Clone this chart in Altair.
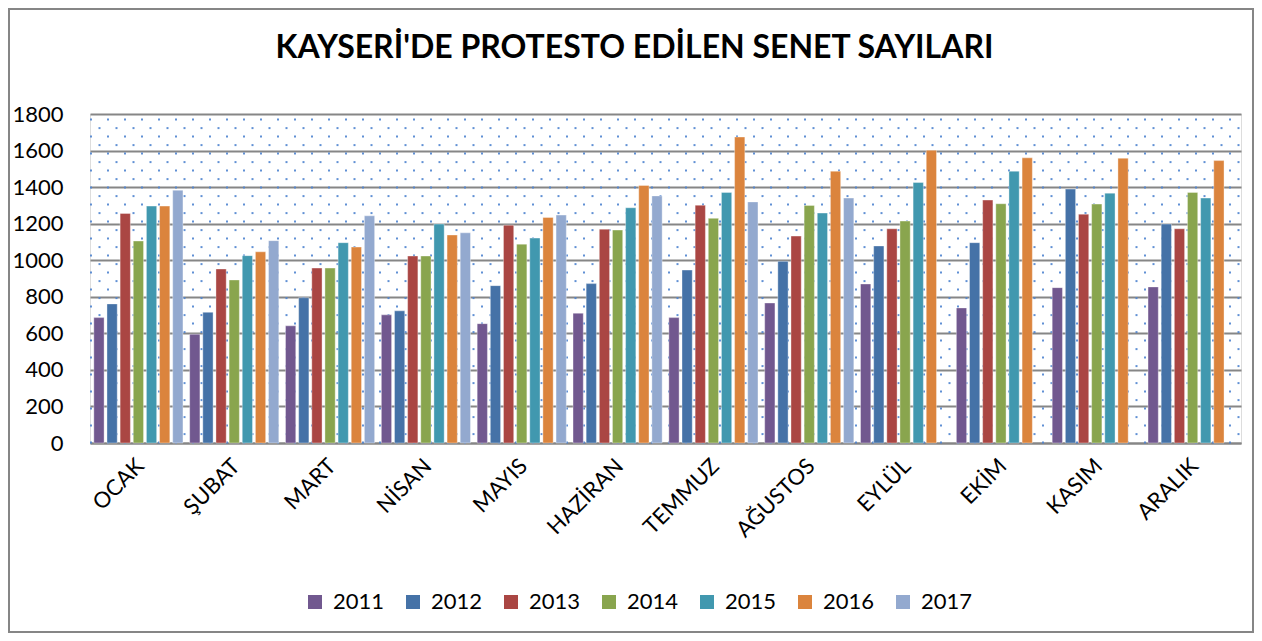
import altair as alt
import pandas as pd

months = ["OCAK", "ŞUBAT", "MART", "NİSAN", "MAYIS", "HAZİRAN", "TEMMUZ",
          "AĞUSTOS", "EYLÜL", "EKİM", "KASIM", "ARALIK"]
years = ["2011", "2012", "2013", "2014", "2015", "2016", "2017"]

v2011 = [686, 595, 641, 701, 653, 710, 686, 766, 870, 739, 850, 854]
v2012 = [761, 715, 795, 723, 861, 872, 946, 994, 1078, 1096, 1389, 1198]
v2013 = [1256, 952, 957, 1023, 1192, 1170, 1301, 1132, 1172, 1329, 1252, 1172]
v2014 = [1105, 892, 957, 1023, 1088, 1165, 1229, 1300, 1214, 1309, 1307, 1371]
v2015 = [1296, 1025, 1096, 1198, 1121, 1287, 1371, 1258, 1425, 1487, 1367, 1340]
v2016 = [1296, 1046, 1072, 1138, 1234, 1409, 1674, 1487, 1602, 1560, 1558, 1545]
v2017 = [1383, 1107, 1243, 1150, 1247, 1352, 1319, 1340, None, None, None, None]

colors = ["#71588f", "#4572a7", "#aa4643", "#89a54e", "#4198af", "#db843d", "#93a9cf"]
y_ticks = [0, 200, 400, 600, 800, 1000, 1200, 1400, 1600, 1800]

series = [v2011, v2012, v2013, v2014, v2015, v2016, v2017]
rows = []
for yr, vals in zip(years, series):
    for m, v in zip(months, vals):
        rows.append({"ay": m, "yil": yr, "deger": v})
df = pd.DataFrame(rows)

W, H = 1151, 329
PAD = {"left": 82, "top": 106, "right": 13, "bottom": 190}
FONT = "Lato"

# plot-area dotted fill texture (decorative)
COLS, ROWS = 68, 39
dots = (
    alt.Chart(alt.sequence(0, COLS * ROWS, as_="i"))
    .transform_calculate(
        r="floor(datum.i / %d)" % COLS,
        c="datum.i %% %d" % COLS,
    )
    .transform_calculate(
        px="datum.c * 17 + (datum.r % 2) * 8.5 + 1",
        py="datum.r * 8.5 + 5.6",
    )
    .transform_filter(f"datum.px < {W} && datum.py < {H}")
    .mark_square(size=4, color="#4f84cf", opacity=0.9)
    .encode(
        x=alt.X("px:Q", scale=None, axis=None),
        y=alt.Y("py:Q", scale=None, axis=None),
    )
)

bars = (
    alt.Chart(df)
    .mark_bar(stroke="#ffffff", strokeWidth=0.6, strokeOpacity=0.6)
    .encode(
        x=alt.X(
            "ay:N",
            sort=months,
            scale=alt.Scale(paddingInner=0.07, paddingOuter=0.04),
            axis=alt.Axis(
                title=None,
                labelAngle=-45,
                labelFont=FONT,
                labelFontSize=22,
                labelColor="#000000",
                labelPadding=12,
                labelOffset=-5,
                ticks=False,
                domainColor="#868686",
                domainWidth=2,
                grid=False,
            ),
        ),
        xOffset=alt.XOffset(
            "yil:N", sort=years, scale=alt.Scale(paddingInner=0.22, paddingOuter=0)
        ),
        y=alt.Y(
            "deger:Q",
            scale=alt.Scale(domain=[0, 1800], nice=False),
            axis=alt.Axis(
                title=None,
                values=y_ticks,
                format="d",
                labelFont=FONT,
                labelFontSize=22,
                labelColor="#000000",
                labelPadding=27,
                ticks=False,
                domain=False,
                gridColor="#868686",
                gridWidth=2,
            ),
        ),
        color=alt.Color(
            "yil:N",
            sort=years,
            scale=alt.Scale(domain=years, range=colors),
            legend=alt.Legend(
                title=None,
                orient="none",
                direction="horizontal",
                legendX=214,
                legendY=477,
                symbolType="square",
                symbolSize=196,
                symbolStrokeWidth=0,
                labelFont=FONT,
                labelFontSize=22,
                labelColor="#000000",
                columnPadding=17,
                labelOffset=7,
            ),
        ),
    )
)

frame = (
    alt.Chart(alt.Data(values=[{"k": 1}]))
    .mark_rect(fill=None, stroke="#868686", strokeWidth=2)
    .encode(
        x=alt.value(-PAD["left"] + 1),
        x2=alt.value(W + PAD["right"] - 1),
        y=alt.value(-PAD["top"] + 1),
        y2=alt.value(H + PAD["bottom"] - 1),
    )
)

chart = (
    alt.layer(dots, bars, frame)
    .resolve_scale(x="independent", y="independent")
    .properties(
        width=W,
        height=H,
        padding=PAD,
        autosize=alt.AutoSizeParams(type="none"),
        title=alt.Title(
            "KAYSERİ'DE PROTESTO EDİLEN SENET SAYILARI",
            font=FONT,
            fontSize=32,
            fontWeight="bold",
            color="#000000",
            anchor="middle",
            frame="group",
            dx=-31,
            offset=-57,
        ),
    )
    .configure_view(stroke=None)
    .configure(background="#ffffff")
)

chart.save("out.html", embed_options={"renderer": "svg", "actions": False})
